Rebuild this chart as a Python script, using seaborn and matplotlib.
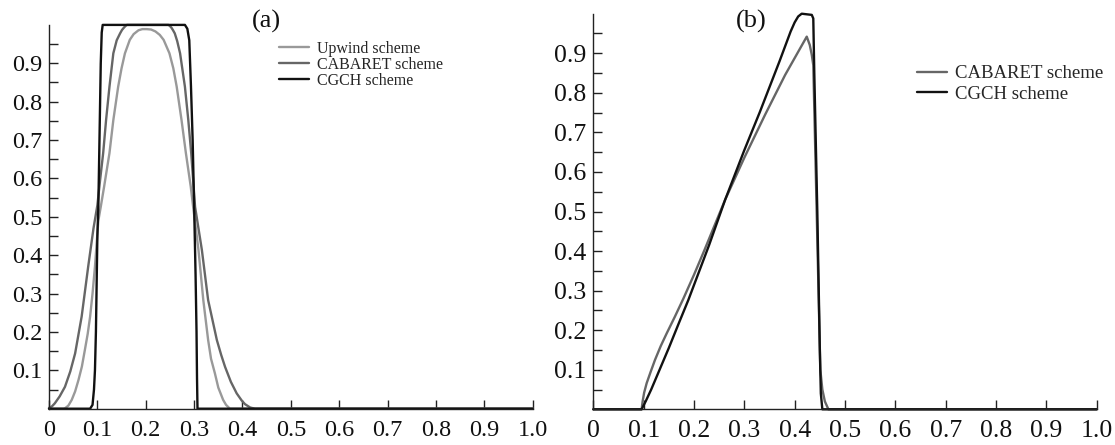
import numpy as np
import pandas as pd
import matplotlib
matplotlib.use('Agg')
import matplotlib.pyplot as plt
import seaborn as sns

# ---------------------------------------------------------------------------
# Data
# ---------------------------------------------------------------------------

# (a) transport of a square pulse
upwind_x = [0.0, 0.030, 0.033, 0.040, 0.047, 0.054, 0.061, 0.068, 0.074, 0.080,
            0.085, 0.090, 0.095, 0.102, 0.107, 0.114, 0.125, 0.133, 0.143, 0.150,
            0.157, 0.167, 0.175, 0.185, 0.193, 0.202, 0.211, 0.220, 0.229, 0.237,
            0.249, 0.257, 0.264, 0.274, 0.283, 0.293, 0.298, 0.309, 0.319, 0.329,
            0.335, 0.343, 0.350, 0.360, 0.366, 0.374, 1.0]
upwind_y = [0.0, 0.0, 0.001, 0.008, 0.023, 0.045, 0.075, 0.110, 0.152, 0.195,
            0.240, 0.300, 0.370, 0.490, 0.526, 0.579, 0.666, 0.752, 0.839, 0.887,
            0.926, 0.961, 0.976, 0.986, 0.989, 0.989, 0.988, 0.983, 0.974, 0.961,
            0.926, 0.887, 0.839, 0.752, 0.666, 0.579, 0.526, 0.414, 0.283, 0.179,
            0.130, 0.092, 0.055, 0.023, 0.010, 0.0, 0.0]

cabaret_a_x = [0.0, 0.006, 0.012, 0.022, 0.033, 0.044, 0.054, 0.0675, 0.081, 0.092,
               0.100, 0.106, 0.112, 0.118, 0.125, 0.133, 0.140, 0.147, 0.151, 0.155,
               0.158, 0.161, 0.247, 0.250, 0.253, 0.256, 0.260, 0.265, 0.271, 0.281,
               0.288, 0.294, 0.302, 0.316, 0.329, 0.347, 0.356, 0.364, 0.376, 0.388,
               0.398, 0.405, 0.416, 0.426, 1.0]
cabaret_a_y = [0.002, 0.006, 0.014, 0.032, 0.057, 0.097, 0.144, 0.240, 0.370, 0.470,
               0.530, 0.600, 0.666, 0.752, 0.839, 0.926, 0.960, 0.978, 0.987, 0.993,
               0.997, 1.0, 1.0, 0.997, 0.993, 0.987, 0.978, 0.958, 0.926, 0.839,
               0.752, 0.666, 0.526, 0.414, 0.283, 0.179, 0.140, 0.109, 0.070, 0.040,
               0.022, 0.012, 0.003, 0.0, 0.0]

cgch_a_x = [0.0, 0.085, 0.090, 0.093, 0.095, 0.097, 0.100, 0.102, 0.105, 0.107,
            0.109, 0.111, 0.281, 0.286, 0.290, 0.2935, 0.297, 0.300, 0.303, 0.305,
            0.306, 0.307, 1.0]
cgch_a_y = [0.0, 0.0, 0.010, 0.050, 0.100, 0.200, 0.450, 0.526, 0.750, 0.900,
            0.980, 1.0, 1.0, 0.990, 0.960, 0.840, 0.700, 0.530, 0.350, 0.200,
            0.080, 0.0, 0.0]

# (b) transport of a triangular profile
cabaret_b_x = [0.0, 0.096, 0.098, 0.101, 0.106, 0.114, 0.1226, 0.134, 0.1458, 0.162,
               0.179, 0.200, 0.220, 0.240, 0.262, 0.300, 0.341, 0.381, 0.424, 0.430,
               0.434, 0.437, 0.451, 0.455, 0.460, 0.467, 1.0]
cabaret_b_y = [0.0, 0.0, 0.020, 0.042, 0.066, 0.095, 0.125, 0.160, 0.192, 0.234,
               0.280, 0.340, 0.400, 0.462, 0.530, 0.636, 0.744, 0.845, 0.942, 0.921,
               0.896, 0.870, 0.100, 0.050, 0.020, 0.0, 0.0]

cgch_b_x = [0.0, 0.096, 0.104, 0.115, 0.130, 0.150, 0.170, 0.1887, 0.230, 0.262,
            0.300, 0.331, 0.370, 0.392, 0.400, 0.407, 0.414, 0.434, 0.437, 0.439,
            0.445, 0.450, 0.452, 0.455, 1.0]
cgch_b_y = [0.0, 0.0, 0.020, 0.050, 0.095, 0.155, 0.218, 0.276, 0.415, 0.530,
            0.655, 0.752, 0.880, 0.955, 0.978, 0.993, 1.0, 0.997, 0.988, 0.850,
            0.500, 0.150, 0.040, 0.0, 0.0]

x_ticks = [0.0, 0.1, 0.2, 0.3, 0.4, 0.5, 0.6, 0.7, 0.8, 0.9, 1.0]
x_tick_labels = ['0', '0.1', '0.2', '0.3', '0.4', '0.5', '0.6', '0.7', '0.8', '0.9', '1.0']
y_ticks = [0.1, 0.2, 0.3, 0.4, 0.5, 0.6, 0.7, 0.8, 0.9]
y_tick_labels = ['0.1', '0.2', '0.3', '0.4', '0.5', '0.6', '0.7', '0.8', '0.9']
y_minor_ticks = [0.05, 0.15, 0.25, 0.35, 0.45, 0.55, 0.65, 0.75, 0.85, 0.95]

palette = {
    'Upwind scheme': '#999999',
    'CABARET scheme': '#666666',
    'CGCH scheme': '#111111',
}


def make_frame(series):
    parts = []
    for name, xs, ys in series:
        parts.append(pd.DataFrame({'x': xs, 'u': ys, 'scheme': name}))
    return pd.concat(parts, ignore_index=True)


df_a = make_frame([
    ('Upwind scheme', upwind_x, upwind_y),
    ('CABARET scheme', cabaret_a_x, cabaret_a_y),
    ('CGCH scheme', cgch_a_x, cgch_a_y),
])
df_b = make_frame([
    ('CABARET scheme', cabaret_b_x, cabaret_b_y),
    ('CGCH scheme', cgch_b_x, cgch_b_y),
])

# ---------------------------------------------------------------------------
# Figure
# ---------------------------------------------------------------------------
sns.set_style('white')
plt.rcParams['font.family'] = ['Liberation Serif', 'DejaVu Serif']

W, H = 1115, 445
fig = plt.figure(figsize=(W / 100, H / 100), dpi=100)

ax_a = fig.add_axes([49 / W, (H - 408.7) / H, 483.7 / W, 383.8 / H])
ax_b = fig.add_axes([593.3 / W, (H - 409.3) / H, 503.4 / W, 395.6 / H])


def style_axis(ax, tick_fs):
    ax.set_xlim(0, 1.0)
    ax.set_ylim(0, 1.0)
    ax.set_xticks(x_ticks)
    ax.set_xticklabels(x_tick_labels)
    ax.set_yticks(y_ticks)
    ax.set_yticklabels(y_tick_labels)
    ax.set_yticks(y_minor_ticks, minor=True)
    ax.set_xlabel('')
    ax.set_ylabel('')
    ax.tick_params(axis='both', which='both', direction='in', length=6.5,
                   width=1.0, color='#222222', labelsize=tick_fs,
                   labelcolor='#111111')
    ax.tick_params(axis='y', which='both', pad=5, left=True)
    ax.tick_params(axis='x', which='both', pad=8, bottom=True)
    for side in ('top', 'right'):
        ax.spines[side].set_visible(False)
    for side in ('left', 'bottom'):
        ax.spines[side].set_color('#222222')
        ax.spines[side].set_linewidth(1.0)
    ax.set_facecolor('white')


sns.lineplot(data=df_a, x='x', y='u', hue='scheme', palette=palette,
             estimator=None, sort=False, linewidth=1.7, ax=ax_a, clip_on=False)
sns.lineplot(data=df_b, x='x', y='u', hue='scheme', palette=palette,
             estimator=None, sort=False, linewidth=1.7, ax=ax_b, clip_on=False)

style_axis(ax_a, 17.5)
style_axis(ax_b, 18.5)

leg_a = ax_a.legend(loc='upper left', bbox_to_anchor=(279 / W, 1 - 41 / H),
                    bbox_transform=fig.transFigure, frameon=False, fontsize=11.5,
                    borderpad=0, borderaxespad=0, handlelength=1.9,
                    handletextpad=0.5, labelspacing=0.0)
leg_b = ax_b.legend(loc='upper left', bbox_to_anchor=(917 / W, 1 - 65 / H),
                    bbox_transform=fig.transFigure, frameon=False, fontsize=13.5,
                    borderpad=0, borderaxespad=0, handlelength=1.6,
                    handletextpad=0.43, labelspacing=0.2)
for leg in (leg_a, leg_b):
    for line in leg.get_lines():
        line.set_linewidth(1.7)

fig.text(266 / W, 1 - 21 / H, '(a)', ha='center', va='center', fontsize=19, color='#111111')
fig.text(751 / W, 1 - 21 / H, '(b)', ha='center', va='center', fontsize=19, color='#111111')

fig.savefig('out.png', dpi=100, facecolor='white')
